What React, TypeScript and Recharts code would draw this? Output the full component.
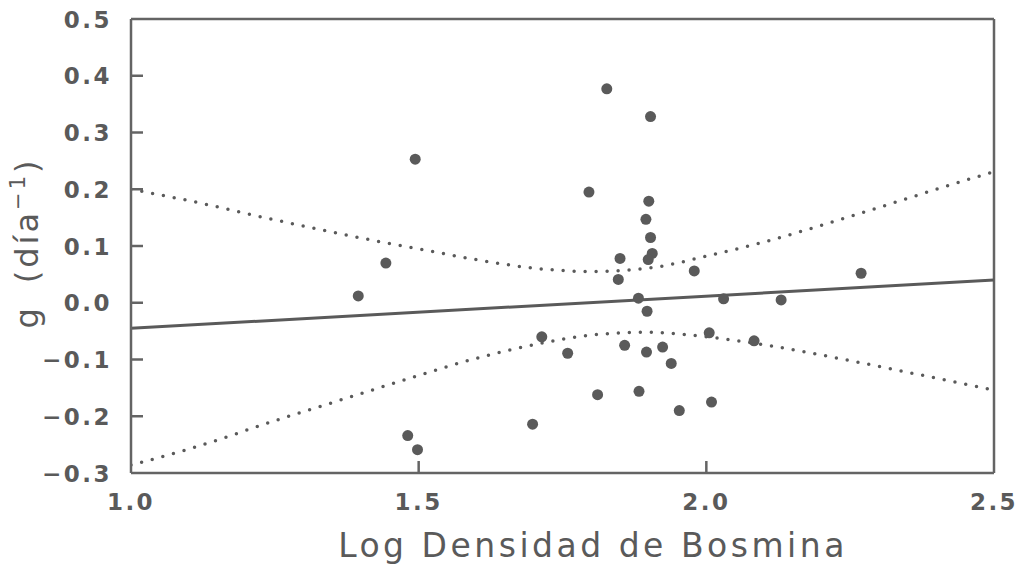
import { ComposedChart, Line, ReferenceLine, Scatter, XAxis, YAxis } from "recharts";

// observed points (log density, g)
const logDensity = [
  1.395, 1.443, 1.494, 1.481, 1.498, 1.698, 1.714, 1.759, 1.796, 1.811, 1.827, 1.85,
  1.847, 1.858, 1.882, 1.883, 1.903, 1.9, 1.895, 1.903, 1.906, 1.899, 1.897, 1.896,
  1.924, 1.939, 1.953, 1.979, 2.005, 2.009, 2.03, 2.083, 2.13, 2.269,
];
const growth = [
  0.012, 0.07, 0.253, -0.234, -0.259, -0.214, -0.06, -0.089, 0.195, -0.162, 0.377, 0.078,
  0.041, -0.075, 0.008, -0.156, 0.328, 0.179, 0.147, 0.115, 0.087, 0.076, -0.015, -0.087,
  -0.078, -0.107, -0.19, 0.056, -0.053, -0.175, 0.007, -0.067, 0.005, 0.052,
];

// fitted line ends
const fitX = [1.0, 2.5];
const fitY = [-0.045, 0.04];

// confidence band
const bandX = [1.0, 1.1, 1.25, 1.4, 1.5, 1.6, 1.7, 1.8, 1.9, 2.0, 2.1, 2.25, 2.4, 2.5];
const bandUpper = [0.2, 0.18, 0.146, 0.114, 0.095, 0.076, 0.061, 0.055, 0.061, 0.082, 0.107, 0.152, 0.2, 0.231];
const bandLower = [-0.286, -0.258, -0.208, -0.16, -0.128, -0.098, -0.074, -0.057, -0.052, -0.06, -0.074, -0.102, -0.133, -0.154];

const xTicks = [1.0, 1.5, 2.0, 2.5];
const yTicks = [-0.3, -0.2, -0.1, 0.0, 0.1, 0.2, 0.3, 0.4, 0.5];

const points = logDensity.map((x, i) => ({ x, y: growth[i] }));
const fit = fitX.map((x, i) => ({ x, y: fitY[i] }));
const upper = bandX.map((x, i) => ({ x, y: bandUpper[i] }));
const lower = bandX.map((x, i) => ({ x, y: bandLower[i] }));

const INK = "#5a5a5a";
const AXIS = "#646464";
const TEXT = "#5a5a5a";
const tickFont = { fontFamily: "DejaVu Sans", fontWeight: 700, fontSize: 23, letterSpacing: 2.5, fill: TEXT };

const fmt = (v: number) => v.toFixed(1).replace("-", "\u2212");

const YTick = (props: any) => {
  const { x, y, payload } = props;
  const v = payload.value;
  const axisX = x + 19;
  const inner = v > -0.3 + 1e-9 && v < 0.5 - 1e-9;
  return (
    <g>
      {inner && <line x1={axisX} x2={axisX + 12} y1={y} y2={y} stroke={AXIS} strokeWidth={2.5} />}
      <text x={x} y={y + 8.5} textAnchor="end" {...tickFont}>{fmt(v)}</text>
    </g>
  );
};

const XTick = (props: any) => {
  const { x, y, payload } = props;
  const v = payload.value;
  const inner = v > 1.0 + 1e-9 && v < 2.5 - 1e-9;
  return (
    <g>
      {inner && <line x1={x} x2={x} y1={y} y2={y - 12} stroke={AXIS} strokeWidth={2.5} />}
      <text x={x} y={y + 37} textAnchor="middle" {...tickFont}>{v.toFixed(1)}</text>
    </g>
  );
};

const YLabel = () => (
  <text
    x={38}
    y={243}
    transform="rotate(-90, 38, 243)"
    textAnchor="middle"
    fontFamily="DejaVu Sans"
    fontSize={32}
    letterSpacing={3}
    fill={TEXT}
  >
    <tspan>g</tspan>
    <tspan dx={22}>(día</tspan>
    <tspan fontSize={21} dy={-13}>{"\u22121"}</tspan>
    <tspan dy={13}>)</tspan>
  </text>
);

const XLabel = () => (
  <text x={593} y={557} textAnchor="middle" fontFamily="DejaVu Sans" fontSize={33} letterSpacing={3.5} fill={TEXT}>
    Log Densidad de Bosmina
  </text>
);

const Dot = (p: any) => <circle cx={p.cx} cy={p.cy} r={5.5} fill={INK} />;

export default function App() {
  return (
    <div style={{ position: "absolute", left: 0, top: 0, background: "#fff" }}>
      <ComposedChart width={1027} height={564} margin={{ top: 19, right: 33, bottom: 0, left: 0 }}>
        <XAxis
          type="number"
          dataKey="x"
          domain={[1, 2.5]}
          ticks={xTicks}
          allowDataOverflow
          height={91}
          tickSize={0}
          tickMargin={0}
          tickLine={false}
          tick={<XTick />}
          axisLine={{ stroke: AXIS, strokeWidth: 2.5 }}
          label={<XLabel />}
        />
        <YAxis
          type="number"
          dataKey="y"
          domain={[-0.3, 0.5]}
          ticks={yTicks}
          allowDataOverflow
          width={131}
          tickSize={0}
          tickMargin={19}
          tickLine={false}
          tick={<YTick />}
          axisLine={{ stroke: AXIS, strokeWidth: 2.5 }}
          label={<YLabel />}
        />
        <ReferenceLine y={0.5} stroke={AXIS} strokeWidth={2.5} />
        <ReferenceLine x={2.5} stroke={AXIS} strokeWidth={2.5} />
        <Line
          data={upper}
          dataKey="y"
          type="monotone"
          stroke={INK}
          strokeWidth={3.5}
          strokeDasharray="0 11"
          strokeLinecap="round"
          dot={false}
          isAnimationActive={false}
        />
        <Line
          data={lower}
          dataKey="y"
          type="monotone"
          stroke={INK}
          strokeWidth={3.5}
          strokeDasharray="0 11"
          strokeLinecap="round"
          dot={false}
          isAnimationActive={false}
        />
        <Line data={fit} dataKey="y" type="linear" stroke={INK} strokeWidth={3} dot={false} isAnimationActive={false} />
        <Scatter data={points} dataKey="y" shape={<Dot />} isAnimationActive={false} />
      </ComposedChart>
    </div>
  );
}
